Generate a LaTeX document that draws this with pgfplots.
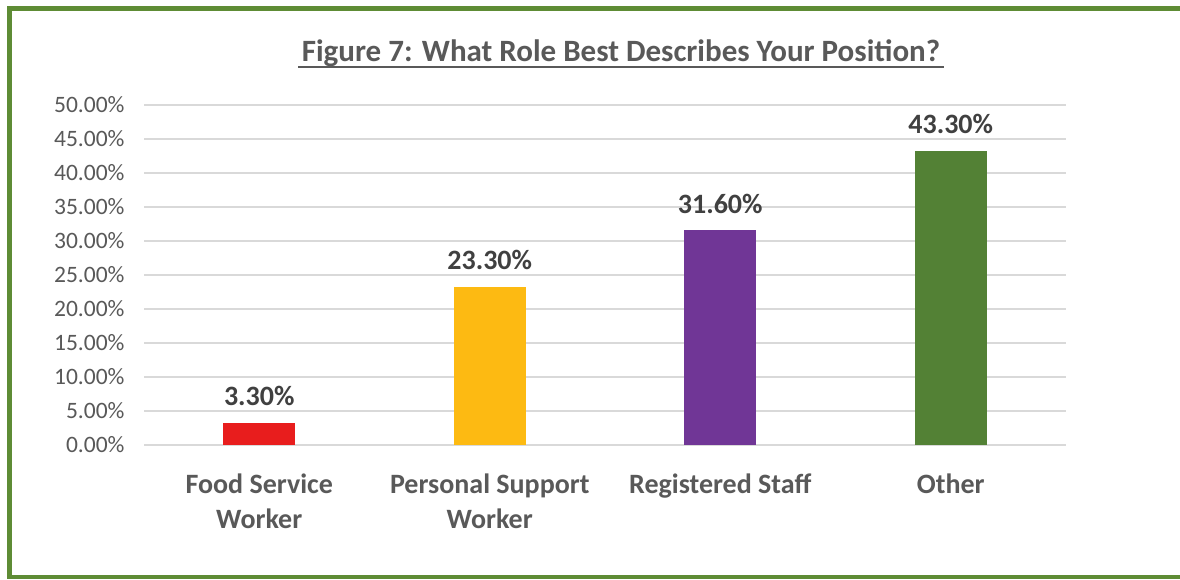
\documentclass[border=0pt]{standalone}
\usepackage{pgfplots}
\pgfplotsset{compat=1.18}
\usepackage{fontspec}
\setmainfont{Carlito}
\definecolor{txt}{HTML}{595959}
\definecolor{valtxt}{HTML}{404040}
\definecolor{frame}{HTML}{5E8C35}
\definecolor{gridc}{HTML}{D9D9D9}
\definecolor{cred}{HTML}{E81D1D}
\definecolor{cyel}{HTML}{FDBA12}
\definecolor{cpur}{HTML}{703696}
\definecolor{cgrn}{HTML}{538135}
\begin{document}
\begin{tikzpicture}[x=1pt,y=1pt]
\useasboundingbox (0,0) rectangle (1180,579);
\fill[white] (0,0) rectangle (1180,579);
\fill[frame] (7,0) rectangle (12,573);
\fill[frame] (7,568) rectangle (1180,573);
\fill[frame] (7,0) rectangle (1180,4);
\node[font=\fontsize{31}{36}\selectfont\bfseries, text=txt, anchor=base] (T) at (621,517) {Figure 7: What Role Best Describes Your Position?};
\draw[txt, line width=1.8pt] ([yshift=-5pt]T.base west) -- ([yshift=-5pt]T.base east);
\begin{axis}[
  at={(144pt,134pt)}, anchor=south west,
  scale only axis, width=922pt, height=340pt,
  xmin=-0.5, xmax=3.5, ymin=0, ymax=50,
  axis line style={draw=none},
  tick style={draw=none},
  ybar, bar width=72pt,
  ymajorgrids, grid style={gridc, line width=1.5pt},
  ytick={0,5,...,50},
  yticklabel={\pgfmathprintnumber[fixed,fixed zerofill,precision=2]{\tick}\%},
  /pgf/number format/assume math mode=true,
  yticklabel style={font=\fontsize{23.5}{26}\selectfont, text=txt, xshift=-16pt},
  xtick={0,1,2,3},
  xticklabels={Food Service\\Worker, Personal Support\\Worker, Registered Staff, Other},
  xticklabel style={font=\fontsize{28}{35}\selectfont\bfseries, text=txt, align=center, anchor=north, yshift=-25pt},
  major tick length=0pt,
  nodes near coords={\pgfmathprintnumber[fixed,fixed zerofill,precision=2]{\pgfplotspointmeta}\%},
  nodes near coords style={font=\fontsize{28}{30}\selectfont\bfseries, text=valtxt, yshift=13pt},
  clip=false,
]
\addplot[fill=cred, draw=none, bar shift=0pt] coordinates {(0,3.3)};
\addplot[fill=cyel, draw=none, bar shift=0pt] coordinates {(1,23.3)};
\addplot[fill=cpur, draw=none, bar shift=0pt] coordinates {(2,31.6)};
\addplot[fill=cgrn, draw=none, bar shift=0pt] coordinates {(3,43.3)};
\end{axis}
\end{tikzpicture}
\end{document}
